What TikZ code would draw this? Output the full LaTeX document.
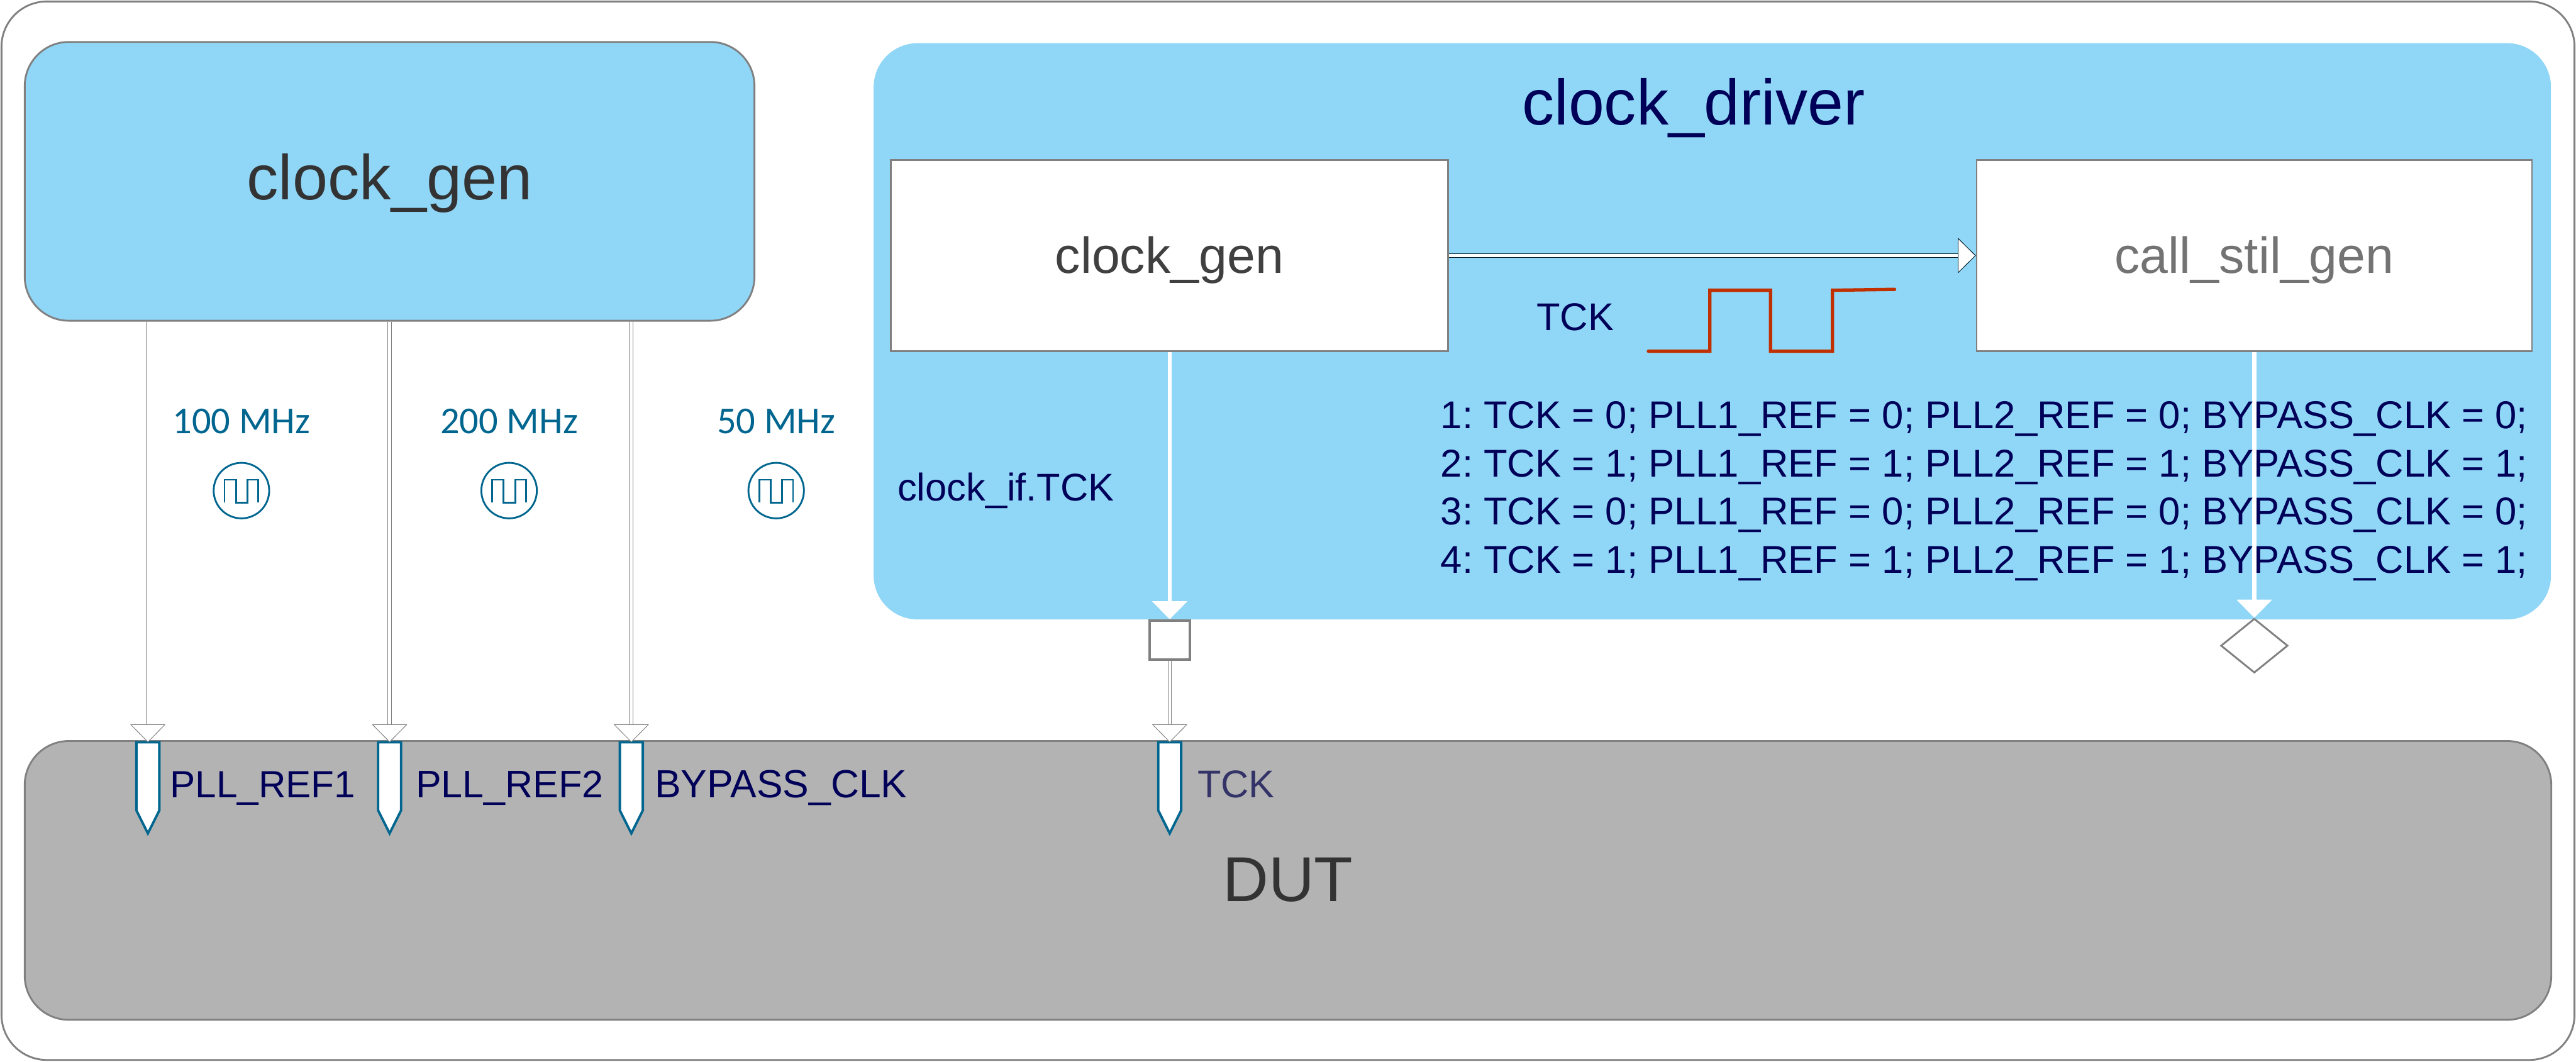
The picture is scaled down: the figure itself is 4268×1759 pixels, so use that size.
\documentclass[tikz,border=0pt]{standalone}
\usepackage{fontspec}
\setmainfont{Liberation Sans}
\newfontfamily\carlitofont{Carlito}
\usetikzlibrary{arrows.meta,shapes.geometric,calc}
\definecolor{skyfill}{HTML}{90D6F6}
\definecolor{dutfill}{HTML}{B3B3B3}
\definecolor{edgegray}{HTML}{808080}
\definecolor{navytext}{HTML}{000058}
\definecolor{tealline}{HTML}{00668F}
\definecolor{wavered}{HTML}{C03000}
\newcommand{\fs}[1]{\fontsize{#1}{#1}\selectfont\frenchspacing}
\tikzset{
  x=0.2pt,y=-0.2pt,
  region/.style={rectangle,inner sep=0pt,rounded corners=14.6pt,minimum width=#1},
  whitebox/.style={rectangle,inner sep=0pt,draw=edgegray,line width=0.6pt,fill=white,font=\fs{16.8},text height=11.6pt,text depth=0pt},
  codeline/.style={anchor=base west,inner sep=0pt,text=navytext,font=\fs{12.84}},
  pinlabel/.style={anchor=base west,inner sep=0pt,text=navytext,font=\fs{#1}},
  freq/.style={anchor=base,inner sep=0pt,text=tealline,font=\carlitofont\fs{12.6}},
  blockarrow/.style={draw=#1,double=white,line width=0.2pt,double distance=1pt,
    -{Triangle[length=6pt,width=11.8pt,fill=white,line width=0.2pt,round]}},
  pinline/.style={draw=tealline,line width=0.8pt,fill=white,line join=miter},
  wavegen/.pic={
    \draw[tealline,line width=0.6pt] (0,0) circle[radius=46];
    \draw[tealline,line width=0.6pt] (-28,20)--(-28,-18)--(-9,-18)--(-9,20)--(10,20)--(10,-18)--(28,-18)--(28,20);
  },
  pinpic/.pic={\draw[pinline] (-19,0)--(19,0)--(19,113)--(0,151)--(-19,113)--cycle;},
}
\begin{document}
\begin{tikzpicture}
\useasboundingbox (0,0) rectangle (4268,1759);
% frame
\node[rectangle,inner sep=0pt,draw=edgegray,line width=0.6pt,fill=white,rounded corners=15pt,
  minimum width=852.6pt,minimum height=350.8pt] (frame) at (2134,879.5) {};
% clock_gen block
\node[region=241.8pt,draw=edgegray,line width=0.6pt,fill=skyfill,minimum height=92.4pt,
  font=\fs{21},text=black!80,text height=12pt,text depth=0pt] (maingen) at (645.5,300.5) {clock\_gen};
% clock_driver block
\node[region=555.8pt,fill=skyfill,minimum height=191pt] (driver) at (2837,549) {};
\node[anchor=base,inner sep=0pt,text=navytext,font=\fs{21.3}] (drivertitle) at (2806,207) {clock\_driver};
\node[whitebox,minimum width=184.6pt,minimum height=63.4pt,text=black!75] (innergen) at (1937.5,423.5) {clock\_gen};
\node[whitebox,minimum width=184pt,minimum height=63.4pt,text=black!55] (stilgen) at (3735,423.5) {call\_stil\_gen};
% DUT
\node[region=837.2pt,draw=edgegray,line width=0.6pt,fill=dutfill,minimum height=92.4pt,
  font=\fs{21},text=black!80,text height=13.8pt,text depth=0pt] (dut) at (2134,1459) {DUT};
% pins
\coordinate (pinA) at (245,1230);
\coordinate (pinB) at (645.5,1230);
\coordinate (pinC) at (1046,1230);
\coordinate (pinD) at (1938,1230);
\pic at (pinA) {pinpic};
\pic at (pinB) {pinpic};
\pic at (pinC) {pinpic};
\pic at (pinD) {pinpic};
\node[pinlabel=12.55] (lblA) at (281,1322) {PLL\_REF1};
\node[pinlabel=12.7] (lblB) at (688,1322) {PLL\_REF2};
\node[pinlabel=13] (lblC) at (1084,1322) {BYPASS\_CLK};
\node[pinlabel=12.8,text=navytext!60!gray] (lblD) at (1983,1322) {TCK};
% port shapes
\node[rectangle,inner sep=0pt,draw=edgegray,line width=0.8pt,fill=white,minimum width=13.2pt,minimum height=13pt] (port) at (1938,1060.5) {};
\node[diamond,inner sep=0pt,draw=edgegray,line width=0.6pt,fill=white,aspect=1.23,minimum width=22.2pt,minimum height=18pt] (stilport) at (3735,1070) {};
% connectors
\draw[blockarrow=edgegray] (maingen.south -| pinA) -- (pinA);
\draw[blockarrow=edgegray] (maingen.south -| pinB) -- (pinB);
\draw[blockarrow=edgegray] (maingen.south -| pinC) -- (pinC);
\draw[blockarrow=white] (innergen.south -| port) -- (port.north);
\draw[blockarrow=edgegray] (port.south) -- (pinD);
\draw[blockarrow=white] (stilgen.south -| stilport) -- (stilport.north);
\draw[blockarrow=black!70!tealline] (innergen.east) -- (stilgen.west);
% frequency labels
\node[freq] (f100) at (400,718) {100 MHz};
\node[freq] (f200) at (843.5,718) {200 MHz};
\node[freq] (f50) at (1286,718) {50 MHz};
\pic at (400,813) {wavegen};
\pic at (843.5,813) {wavegen};
\pic at (1286,813) {wavegen};
% signal labels
\node[pinlabel=12.8] (tck) at (2545,548) {TCK};
\draw[wavered,line width=1.1pt,line cap=round,line join=miter] (2731,582)--(2833,582)--(2833,481)--(2933.5,481)--(2933.5,582)--(3036,582)--(3036,481)--(3139,479.5);
\node[pinlabel=12.8] (clkif) at (1486,830) {clock\_if.TCK};
\node[codeline] (c1) at (2386,710) {1: TCK = 0; PLL1\_REF = 0; PLL2\_REF = 0; BYPASS\_CLK = 0;};
\node[codeline] (c2) at (2386,790) {2: TCK = 1; PLL1\_REF = 1; PLL2\_REF = 1; BYPASS\_CLK = 1;};
\node[codeline] (c3) at (2386,870) {3: TCK = 0; PLL1\_REF = 0; PLL2\_REF = 0; BYPASS\_CLK = 0;};
\node[codeline] (c4) at (2386,950) {4: TCK = 1; PLL1\_REF = 1; PLL2\_REF = 1; BYPASS\_CLK = 1;};
\end{tikzpicture}
\end{document}
